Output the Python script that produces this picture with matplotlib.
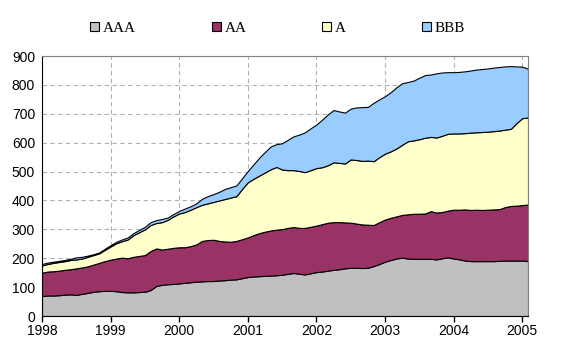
import numpy as np
import matplotlib
matplotlib.use("Agg")
import matplotlib.pyplot as plt
from matplotlib.patches import Patch

# monthly observations, Jan 1998 .. Feb 2005
months = np.arange(86)
years = [1998, 1999, 2000, 2001, 2002, 2003, 2004, 2005]
labels = ["AAA", "AA", "A", "BBB"]
colors = ["#C0C0C0", "#993366", "#FFFFCC", "#99CCFF"]

aaa = [69, 71, 71, 72, 74, 75, 73, 77, 80, 84, 86, 87,
       87, 86, 83, 82, 82, 83, 84, 90, 104, 108, 110, 111,
       113, 115, 117, 119, 120, 121, 121, 123, 124, 126, 127, 131,
       135, 137, 138, 139, 140, 141, 143, 146, 149, 146, 144, 148,
       152, 154, 157, 160, 162, 165, 167, 167, 166, 167, 173, 180,
       188, 194, 199, 202, 199, 198, 198, 198, 198, 196, 200, 203,
       199, 196, 192, 190, 190, 190, 190, 190, 191, 192, 192, 192,
       192, 190]

aa = [81, 83, 84, 85, 86, 87, 92, 91, 92, 94, 98, 103,
      108, 113, 119, 118, 123, 125, 127, 135, 130, 122, 123, 125,
      125, 123, 125, 129, 140, 142, 143, 137, 134, 131, 133, 135,
      137, 143, 149, 153, 156, 158, 158, 159, 159, 159, 161, 161,
      161, 164, 166, 165, 163, 159, 156, 153, 151, 149, 142, 145,
      146, 146, 146, 148, 153, 156, 156, 157, 165, 162, 160, 162,
      169, 172, 177, 177, 178, 177, 178, 179, 179, 185, 189, 190,
      192, 196]

a = [25, 26, 29, 30, 30, 32, 31, 31, 33, 33, 33, 39,
     46, 53, 57, 65, 75, 82, 89, 90, 88, 95, 100, 109,
     117, 122, 126, 129, 125, 127, 131, 140, 147, 153, 155, 174,
     191, 195, 199, 205, 212, 217, 206, 200, 197, 197, 193, 196,
     199, 197, 199, 207, 205, 204, 219, 220, 220, 222, 221, 225,
     228, 230, 235, 243, 253, 254, 258, 262, 257, 260, 264, 266,
     264, 264, 264, 268, 268, 270, 270, 271, 272, 268, 267, 286,
     301, 301]

bbb = [5, 5, 4, 4, 4, 4, 7, 6, 4, 3, 3, 4,
       4, 5, 6, 7, 7, 8, 9, 10, 10, 11, 8, 8,
       9, 12, 12, 13, 21, 25, 27, 30, 35, 36, 37, 37,
       39, 50, 62, 71, 79, 79, 91, 105, 117, 126, 138, 145,
       151, 165, 176, 181, 178, 176, 176, 182, 186, 186, 202, 200,
       199, 205, 212, 213, 205, 207, 213, 217, 216, 222, 219, 213,
       212, 213, 214, 215, 217, 218, 219, 220, 220, 219, 217, 196,
       178, 169]

t = 1998 + months / 12.0
series = [aaa, aa, a, bbb]

fig = plt.figure(figsize=(5.76, 3.54), dpi=100)
ax = fig.add_axes([0.0729, 0.1073, 0.8438, 0.7345])

ax.stackplot(t, *series, colors=colors, edgecolor="black", linewidth=0.8)

ax.set_xlim(1998, t[-1])
ax.set_ylim(0, 900)
ax.set_yticks(range(0, 901, 100))
ax.set_xticks(years)
ax.tick_params(axis="x", direction="out", length=4, width=1, labelsize=10, pad=2)
ax.tick_params(axis="y", length=0, labelsize=10, pad=5)
for lbl in ax.get_xticklabels() + ax.get_yticklabels():
    lbl.set_fontfamily("Liberation Sans")

ax.grid(True, color="#B0B0B0", linestyle=(0, (4, 3)), linewidth=0.8)
ax.set_axisbelow(True)
ax.spines["left"].set_color("black")
ax.spines["bottom"].set_color("black")
ax.spines["top"].set_color("#808080")
ax.spines["right"].set_color("#808080")

handles = [Patch(facecolor=c, edgecolor="black", linewidth=0.8) for c in colors]
fig.legend(handles, labels, loc="center", bbox_to_anchor=(0.482, 0.92), ncol=4,
           frameon=False, handlelength=0.6, handleheight=0.6, handletextpad=0.25,
           columnspacing=4.95, prop={"family": "Liberation Serif", "size": 11})

fig.savefig("out.png", dpi=100)
